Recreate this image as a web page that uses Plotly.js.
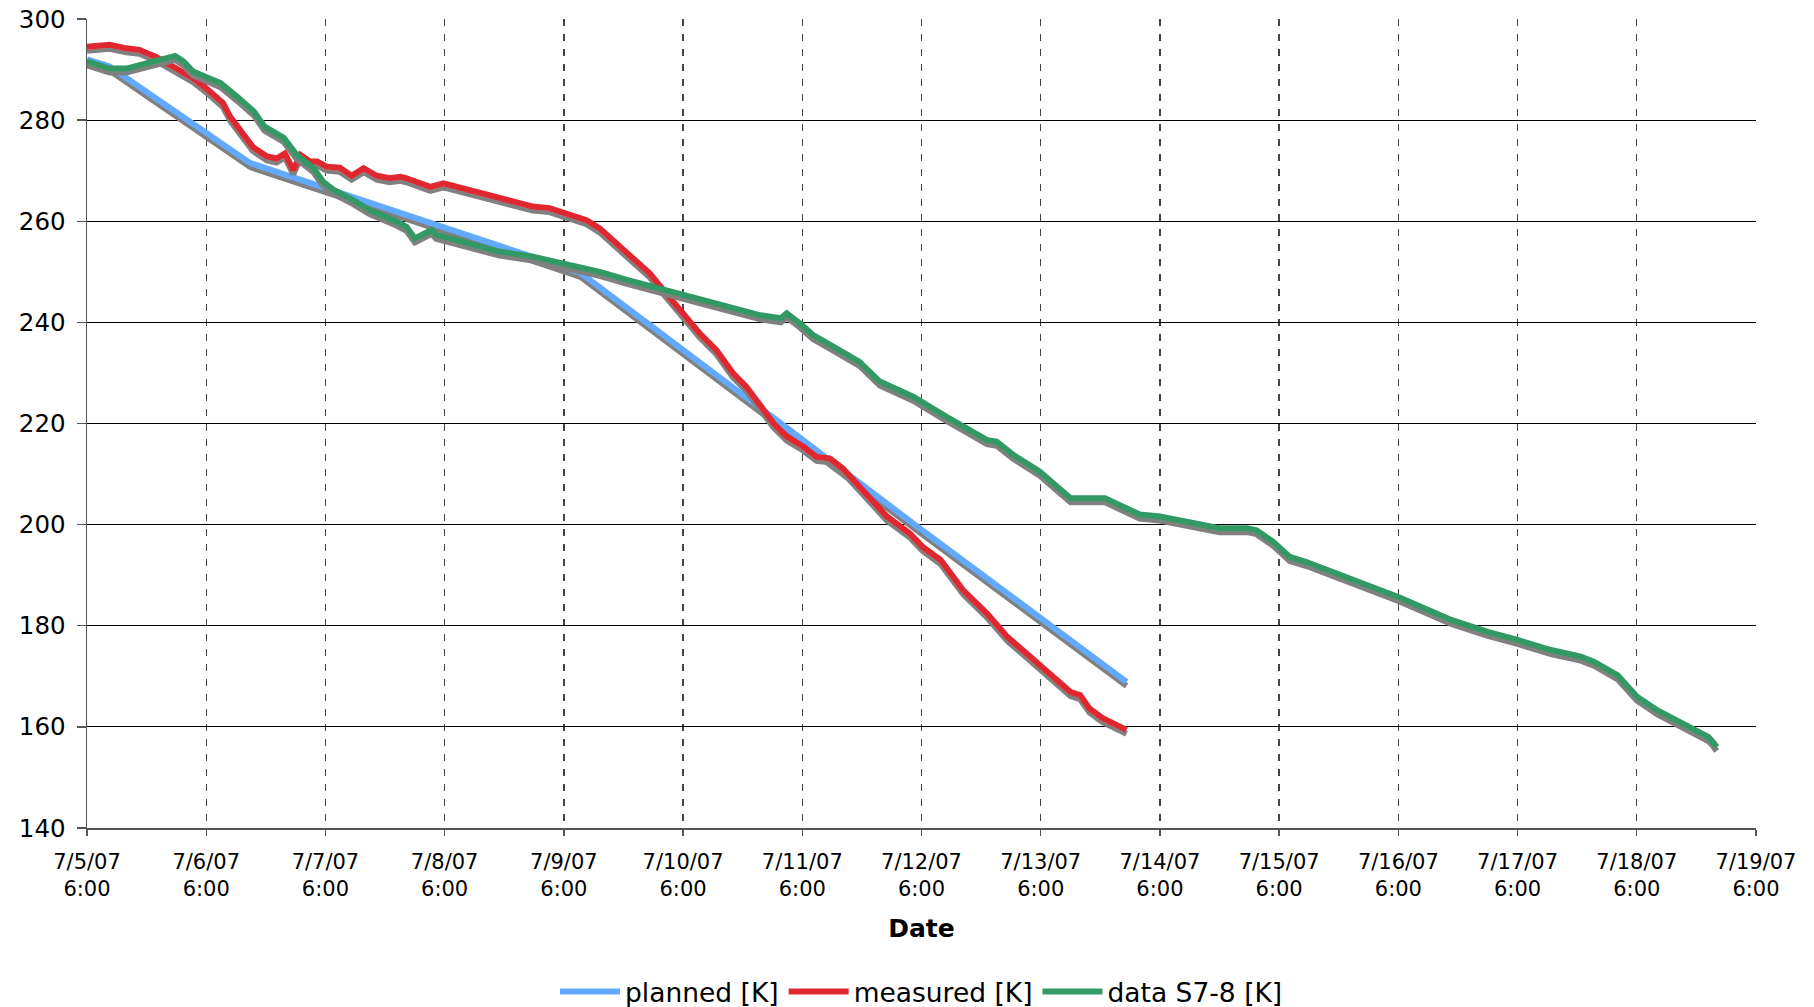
<!DOCTYPE html>
<html><head><meta charset="utf-8">
<script src="https://cdn.plot.ly/plotly-3.0.1.min.js"></script>
<style>html,body{margin:0;padding:0;background:#fff}#chart{width:1814px;height:1007px}</style>
</head><body>
<svg width="0" height="0" style="position:absolute">
  <defs>
    <filter id="lineShadow" filterUnits="userSpaceOnUse" x="-200" y="-200" width="2400" height="1400">
      <feDropShadow dx="0" dy="4" stdDeviation="0" flood-color="#808080" flood-opacity="1"/>
    </filter>
  </defs>
</svg>
<div id="chart"></div>
<script>
// x values: days elapsed since 7/5/07 6:00
const tickDays = [0,1,2,3,4,5,6,7,8,9,10,11,12,13,14];
const tickLabels = ['7/5/07<br>6:00','7/6/07<br>6:00','7/7/07<br>6:00','7/8/07<br>6:00','7/9/07<br>6:00',
  '7/10/07<br>6:00','7/11/07<br>6:00','7/12/07<br>6:00','7/13/07<br>6:00','7/14/07<br>6:00',
  '7/15/07<br>6:00','7/16/07<br>6:00','7/17/07<br>6:00','7/18/07<br>6:00','7/19/07<br>6:00'];
const yTicks = [140,160,180,200,220,240,260,280,300];

const plannedDays = [0, 0.19, 1.37, 2.0, 3.0, 4.14, 5.81, 6.96, 8.72];
const plannedK    = [292.0, 290.6, 271.5, 266.6, 258.8, 249.8, 220.2, 199.7, 168.9];

const measuredDays = [0.00,0.19,0.33,0.44,0.58,0.72,0.89,1.00,1.14,1.20,1.28,1.39,1.51,1.59,1.66,1.70,1.73,1.79,1.87,1.93,
  2.01,2.12,2.22,2.32,2.43,2.54,2.63,2.68,2.77,2.88,2.99,3.10,3.27,3.44,3.60,3.74,3.88,4.02,4.19,4.30,
  4.41,4.53,4.58,4.72,4.86,5.00,5.14,5.28,5.42,5.53,5.65,5.76,5.87,6.01,6.12,6.23,6.34,6.51,6.71,6.90,
  7.01,7.16,7.35,7.55,7.72,7.91,8.10,8.25,8.33,8.41,8.52,8.72];
const measuredK = [294.5,294.9,294.2,293.9,292.5,290.6,288.3,286.3,283.4,280.7,278.0,274.7,272.8,272.4,273.4,271.1,270.1,273.1,271.8,271.8,
  270.8,270.6,269.0,270.5,269.0,268.5,268.8,268.5,267.8,266.8,267.5,266.8,265.8,264.9,263.9,262.9,262.6,261.6,260.2,258.6,
  256.3,254.0,253.0,249.7,245.7,241.8,237.8,234.5,229.9,227.3,223.3,220.0,217.4,215.4,213.4,213.1,211.1,206.8,201.6,198.3,
  195.6,193.0,187.0,182.4,177.8,173.9,169.9,166.9,166.3,163.6,161.7,159.4];

const s78Days = [0.00,0.19,0.33,0.47,0.61,0.74,0.81,0.89,1.00,1.12,1.26,1.40,1.49,1.65,1.76,1.90,1.98,2.07,2.21,2.37,
  2.60,2.68,2.75,2.82,2.89,2.93,3.18,3.46,3.74,3.99,4.30,4.53,4.81,5.09,5.37,5.65,5.82,5.87,5.98,6.09,
  6.26,6.48,6.65,6.93,7.21,7.38,7.55,7.63,7.77,7.99,8.11,8.25,8.54,8.63,8.72,8.83,9.00,9.22,9.50,9.73,
  9.81,9.95,10.09,10.23,10.45,10.73,11.01,11.45,11.75,12.00,12.28,12.53,12.64,12.84,13.00,13.17,13.39,13.60,13.64,13.67];
const s78K = [291.6,290.2,290.2,291.2,291.9,292.7,291.6,289.6,288.6,287.3,284.6,281.7,278.7,276.5,273.1,270.5,267.8,266.2,264.5,262.2,
  259.9,258.9,256.6,257.3,258.3,257.3,255.6,254.0,253.0,251.7,250.0,248.4,246.7,245.1,243.1,241.4,240.8,241.8,239.8,237.5,
  235.2,232.2,228.3,225.3,221.3,219.0,216.7,216.4,213.8,210.5,208.1,205.2,205.2,204.2,203.5,202.0,201.6,200.6,199.3,199.3,
  198.9,196.6,193.6,192.6,190.6,188.0,185.6,181.1,178.8,177.2,175.2,173.9,172.9,170.2,166.0,163.3,160.7,158.0,157.0,156.0];

const seriesNames = ['planned [K]','measured [K]','data S7-8 [K]'];
const seriesColors = ['#62aaff','#e0262e','#339966'];

const series = [[plannedDays, plannedK],[measuredDays, measuredK],[s78Days, s78K]];
const traces = series.map((sr, i) => ({
  x: sr[0], y: sr[1], type:'scatter', mode:'lines', name: seriesNames[i],
  line:{color:seriesColors[i], width:6}
}));

const baseFont = 'DejaVu Sans, Verdana, sans-serif';
const layout = {
  width:1814, height:1007,
  margin:{l:87, r:58, t:19, b:179},
  paper_bgcolor:'#fff', plot_bgcolor:'#fff',
  font:{family:baseFont, color:'#000'},
  showlegend:true,
  legend:{orientation:'h', x:0.5, xanchor:'center', xref:'paper', yref:'container', y:0.015, yanchor:'middle',
    font:{family:baseFont, size:26.5, color:'#000'}, itemwidth:60, traceorder:'normal'},
  xaxis:{range:[0,14], tickvals:tickDays, ticktext:tickLabels, tickangle:0,
    tickfont:{family:baseFont, size:21, color:'#000'}, ticklabelstandoff:8,
    showgrid:true, gridcolor:'#444', gridwidth:1.3, griddash:'7px,8px',
    showline:true, linecolor:'#555', linewidth:1.5,
    ticks:'outside', ticklen:6, tickcolor:'#555', tickwidth:1.3,
    zeroline:false, fixedrange:true,
    title:{text:'<b>Date</b>', font:{family:baseFont, size:25, color:'#000'}, standoff:19}},
  yaxis:{range:[140,300], tickvals:yTicks, tickfont:{family:baseFont, size:24.5, color:'#000'},
    showgrid:true, gridcolor:'#000', gridwidth:1,
    showline:true, linecolor:'#555', linewidth:1.5,
    ticks:'outside', ticklen:9, tickcolor:'#555', tickwidth:1.3,
    ticklabelstandoff:6, zeroline:false, fixedrange:true}
};
Plotly.newPlot('chart', traces, layout, {staticPlot:true, displayModeBar:false}).then(() => {
  document.querySelectorAll('#chart .scatterlayer .trace').forEach(g => g.setAttribute('filter', 'url(#lineShadow)'));
});
</script>
</body></html>
